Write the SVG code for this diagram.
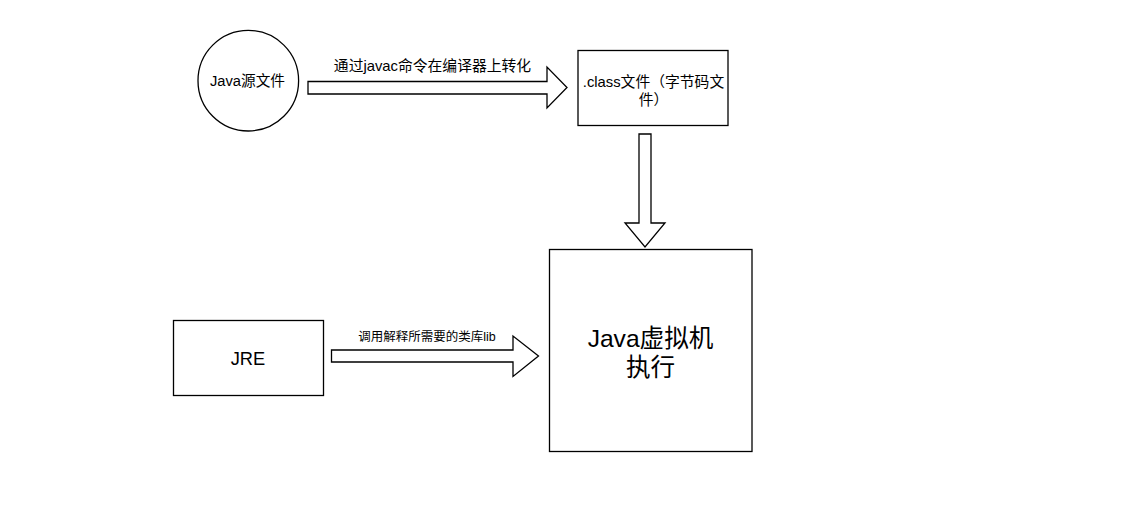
<svg xmlns="http://www.w3.org/2000/svg" width="1147" height="522" viewBox="0 0 1147 522">
<style>
.s{fill:#fff;stroke:#000;stroke-width:1.3}
.t{font-family:"Liberation Sans","Noto Sans CJK SC",sans-serif;fill:#000;text-anchor:middle;dominant-baseline:central}
</style>
<rect width="1147" height="522" fill="#fff"/>
<g id="connectors">
<path class="s" d="M308,81.5 H547 V67 L567,87.5 L547,108 V94 H308 Z"/>
<text class="t" x="432.5" y="66" font-size="14.8">通过javac命令在编译器上转化</text>
<path class="s" d="M639,134 V223 H625 L645,247 L665,223 H651 V134 Z"/>
<path class="s" d="M331.5,350 H513 V336 L538.5,356 L513,376.5 V362 H331.5 Z"/>
<text class="t" x="427" y="337" font-size="12.5">调用解释所需要的类库lib</text>
</g>
<g id="java-source">
<circle class="s" cx="248.3" cy="80.7" r="50.3"/>
<text class="t" x="247.5" y="81" font-size="14.7">Java源文件</text>
</g>
<g id="class-file">
<rect class="s" x="578" y="50.5" width="150" height="75"/>
<text class="t" x="653.5" y="82" font-size="14.8">.class文件（字节码文</text>
<text class="t" x="653.5" y="100" font-size="14.8">件）</text>
</g>
<g id="jvm">
<rect class="s" x="549.5" y="249.5" width="202.5" height="202"/>
<text class="t" x="650.5" y="338" font-size="24.6">Java虚拟机</text>
<text class="t" x="650.5" y="367" font-size="24.6">执行</text>
</g>
<g id="jre">
<rect class="s" x="173.5" y="320.5" width="150" height="75"/>
<text class="t" x="248" y="358" font-size="18.3">JRE</text>
</g>
</svg>
